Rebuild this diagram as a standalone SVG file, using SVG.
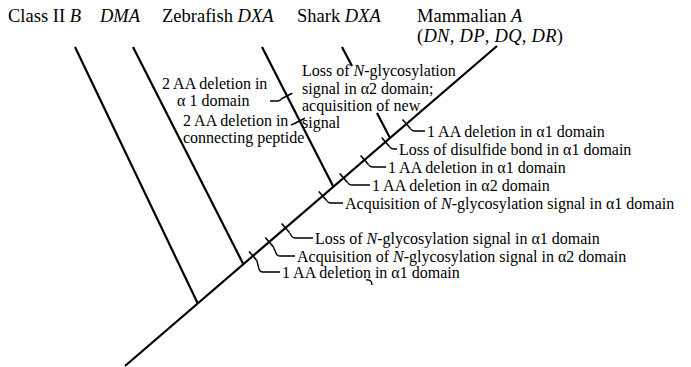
<svg xmlns="http://www.w3.org/2000/svg" width="691" height="367" viewBox="0 0 691 367">
<style>
text{font-family:"Liberation Serif","Times New Roman",serif;fill:#000}
.h{font-size:18.5px}
.a{font-size:16px}
.i{font-style:italic}
.br{stroke:#000;stroke-width:2.2;fill:none;stroke-linecap:butt}
.tk{stroke:#000;stroke-width:1.6;fill:none}
.ld{stroke:#000;stroke-width:1.4;fill:none}
</style>
<rect width="691" height="367" fill="#fff"/>
<g id="connectors">
<line class="br" x1="125" y1="366" x2="497" y2="46"/>
<line class="br" x1="75" y1="47" x2="197.8" y2="303.5"/>
<line class="br" x1="133" y1="47" x2="243.5" y2="264.5"/>
<line class="br" x1="262" y1="47" x2="333.5" y2="187"/>
<line class="br" x1="342" y1="47" x2="352" y2="66"/>
<line class="br" x1="377" y1="113" x2="390" y2="138"/>
</g>
<g id="taxon-classIIB"><text class="h" x="8" y="22">Class II <tspan class="i">B</tspan></text></g>
<g id="taxon-DMA"><text class="h i" x="100" y="22">DMA</text></g>
<g id="taxon-zebrafish"><text class="h" x="162" y="22">Zebrafish <tspan class="i">DXA</tspan></text></g>
<g id="taxon-shark"><text class="h" x="297" y="22">Shark <tspan class="i">DXA</tspan></text></g>
<g id="taxon-mammalian"><text class="h" x="417" y="22">Mammalian <tspan class="i">A</tspan></text>
<text class="h" x="417" y="42" textLength="146" lengthAdjust="spacing">(<tspan class="i">DN</tspan>, <tspan class="i">DP</tspan>, <tspan class="i">DQ</tspan>, <tspan class="i">DR</tspan>)</text></g>

<g id="ev-zf1">
<line class="tk" x1="281.5" y1="98.7" x2="292.3" y2="93.3"/>
<path class="ld" d="M281.5,98.7 Q280,101 278,101 H270"/>
<text class="a" x="162" y="89">2 AA deletion in</text>
<text class="a" x="177" y="106">α 1 domain</text>
</g>
<g id="ev-zf2">
<line class="tk" x1="294.1" y1="123.7" x2="304.9" y2="118.3"/>
<path class="ld" d="M294.1,123.7 L291,125"/>
<text class="a" x="183" y="126">2 AA deletion in</text>
<text class="a" x="183" y="143">connecting peptide</text>
</g>
<g id="ev-shark">
<text class="a" x="302" y="76">Loss of <tspan class="i">N</tspan>-glycosylation</text>
<text class="a" x="302" y="94">signal in α2 domain;</text>
<text class="a" x="302" y="111">acquisition of new</text>
<text class="a" x="302" y="128">signal</text>
</g>

<g id="ev-A">
<line class="tk" x1="402.5" y1="119.5" x2="410.3" y2="128.5"/>
<path class="ld" d="M410.3,128.5 Q411.8,131 414.3,131 H425"/>
<text class="a" x="427" y="136.5">1 AA deletion in α1 domain</text>
</g>
<g id="ev-B">
<line class="tk" x1="381.6" y1="137.5" x2="389.4" y2="146.5"/>
<path class="ld" d="M389.4,146.5 Q390.9,149 393.4,149 H397"/>
<text class="a" x="399" y="154.5">Loss of disulfide bond in α1 domain</text>
</g>
<g id="ev-C">
<line class="tk" x1="360.6" y1="155.5" x2="368.4" y2="164.5"/>
<path class="ld" d="M368.4,164.5 Q369.9,167 372.4,167 H386"/>
<text class="a" x="388" y="172.5">1 AA deletion in α1 domain</text>
</g>
<g id="ev-D">
<line class="tk" x1="339.7" y1="173.5" x2="347.5" y2="182.5"/>
<path class="ld" d="M347.5,182.5 Q349,185 351.5,185 H370"/>
<text class="a" x="372" y="190.5">1 AA deletion in α2 domain</text>
</g>
<g id="ev-E">
<line class="tk" x1="318.8" y1="191.5" x2="326.6" y2="200.5"/>
<path class="ld" d="M326.6,200.5 Q328.1,203 330.6,203 H343"/>
<text class="a" x="345" y="208.5">Acquisition of <tspan class="i">N</tspan>-glycosylation signal in α1 domain</text>
</g>
<g id="ev-F">
<line class="tk" x1="281.6" y1="223.5" x2="289.4" y2="232.5"/>
<path class="ld" d="M289.4,232.5 L291.5,236 Q292.5,238 295,238 H313"/>
<text class="a" x="315" y="243.5">Loss of <tspan class="i">N</tspan>-glycosylation signal in α1 domain</text>
</g>
<g id="ev-G">
<line class="tk" x1="265.3" y1="237.5" x2="273.1" y2="246.5"/>
<path class="ld" d="M273.1,246.5 L276,253 Q277,256 279.5,256 H295"/>
<text class="a" x="297" y="261.5">Acquisition of <tspan class="i">N</tspan>-glycosylation signal in α2 domain</text>
</g>
<g id="ev-H">
<line class="tk" x1="249" y1="251.5" x2="256.8" y2="260.5"/>
<path class="ld" d="M256.8,260.5 L259,269 Q260,272 262.5,272 H280"/>
<text class="a" x="282" y="277.5">1 AA deletion in α1 domain</text>
<path class="ld" d="M366,280 Q372,279 372,285"/>
</g>
</svg>
